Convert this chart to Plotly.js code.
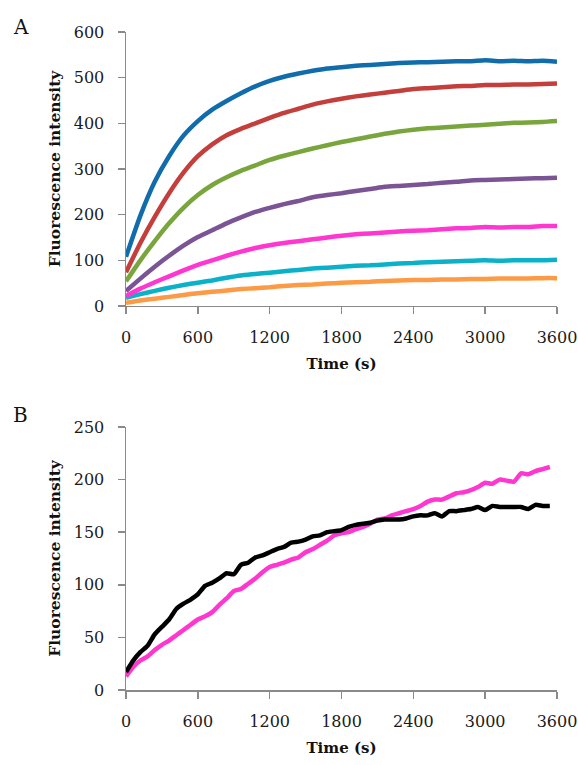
<!DOCTYPE html>
<html>
<head>
<meta charset="utf-8">
<script src="https://cdn.plot.ly/plotly-3.0.1.min.js"></script>
<style>html,body{margin:0;padding:0;background:#fff;}#chart{width:578px;height:765px;}</style>
</head>
<body>
<div id="chart"></div>
<script>
// Panel A: time (s), every 120 s
const timeA = [0,120,240,360,480,600,720,840,960,1080,1200,1320,1440,1560,1680,1800,1920,2040,2160,2280,2400,2520,2640,2760,2880,3000,3120,3240,3360,3480,3600];
const blueA   = [108,198,272,328,373,405,430,449,466,481,493,502,509,515,520,523,526,528,530,532,533,534,535,536,536,538,536,537,536,537,535];
const redA    = [74,138,195,247,292,328,354,374,388,400,412,423,432,441,448,454,459,463,467,471,475,477,479,481,482,484,484,485,485,486,487];
const greenA  = [54,100,142,181,215,243,265,282,296,308,320,329,337,345,352,359,365,371,377,382,386,389,391,393,395,397,399,401,402,403,405];
const purpleA = [33,60,86,110,132,151,166,181,194,206,215,223,230,238,243,247,252,256,261,263,265,267,270,272,275,276,277,278,279,280,281];
const pinkA   = [22,38,52,65,78,90,100,110,119,127,133,138,142,146,150,154,157,159,161,163,165,166,168,170,171,173,172,173,173,175,175];
const cyanA   = [18,26,33,40,46,51,56,62,67,70,73,76,79,82,84,86,88,89,91,93,94,96,97,98,99,100,99,100,100,100,101];
const orangeA = [7,12,16,20,24,28,31,34,37,39,41,44,46,47,49,51,52,53,55,56,57,57,58,58,59,59,60,60,60,61,61];

// Panel B: time (s), every 60 s
const timeB = [0,60,120,180,240,300,360,420,480,540,600,660,720,780,840,900,960,1020,1080,1140,1200,1260,1320,1380,1440,1500,1560,1620,1680,1740,1800,1860,1920,1980,2040,2100,2160,2220,2280,2340,2400,2460,2520,2580,2640,2700,2760,2820,2880,2940,3000,3060,3120,3180,3240,3300,3360,3420,3480,3540];
const blackB = [17,28,36,42,53,60,67,77,82,86,91,99,102,106,111,110,119,121,126,128,131,134,136,140,141,143,146,147,150,151,152,155,157,158,159,161,162,162,162,163,165,166,166,168,165,170,170,171,172,174,171,175,174,174,174,174,172,176,175,175];
const pinkB  = [13,22,28,32,38,43,47,52,57,62,67,70,74,81,87,94,96,101,106,112,117,119,121,124,126,131,134,138,142,147,149,150,153,155,158,162,163,166,168,170,172,175,179,181,181,184,187,188,190,193,197,196,200,199,198,206,205,208,210,212];

const xTicks = [0,600,1200,1800,2400,3000,3600];
const yTicksA = [0,100,200,300,400,500,600];
const yTicksB = [0,50,100,150,200,250];
const yTitle = 'Fluorescence intensity';
const xTitle = 'Time (s)';

const W = 4.5;
function tr(x, y, color, xa, ya) {
  return {x: x, y: y, type: 'scatter', mode: 'lines', line: {color: color, width: W, shape: 'spline', smoothing: 0.5}, xaxis: xa, yaxis: ya, hoverinfo: 'skip', showlegend: false};
}
const data = [
  tr(timeA, orangeA, '#fd9a45', 'x', 'y'),
  tr(timeA, cyanA, '#0bb0c9', 'x', 'y'),
  tr(timeA, pinkA, '#ff36cf', 'x', 'y'),
  tr(timeA, purpleA, '#7a5494', 'x', 'y'),
  tr(timeA, greenA, '#79a53d', 'x', 'y'),
  tr(timeA, redA, '#c43f3b', 'x', 'y'),
  tr(timeA, blueA, '#116cab', 'x', 'y'),
  tr(timeB, pinkB, '#ff36cf', 'x2', 'y2'),
  tr(timeB, blackB, '#000000', 'x2', 'y2')
];

const serif = 'DejaVu Serif, Liberation Serif, serif';
const axLine = '#8a8a8a';
function xax(anchor) {
  return {
    anchor: anchor, range: [0, 3600], tickvals: xTicks, ticktext: xTicks.map(String),
    showline: true, linecolor: axLine, linewidth: 1.5, ticks: 'outside', tickcolor: axLine, tickwidth: 1.5, ticklen: 7,
    showgrid: false, zeroline: false, ticklabelstandoff: 9,
    tickfont: {family: serif, size: 16, color: '#1a1a1a'},
    title: {text: xTitle, font: {family: serif, size: 15, color: '#111', weight: 'bold'}, standoff: 13}
  };
}
function yax(anchor, domain, range, ticks) {
  return {
    anchor: anchor, domain: domain, range: range, tickvals: ticks, ticktext: ticks.map(String),
    showline: true, linecolor: axLine, linewidth: 1.5, ticks: 'outside', tickcolor: axLine, tickwidth: 1.5, ticklen: 7,
    showgrid: false, zeroline: false, ticklabelstandoff: 10,
    tickfont: {family: serif, size: 16, color: '#1a1a1a'},
    title: {text: yTitle, font: {family: serif, size: 15.5, color: '#111', weight: 'bold'}, standoff: 9}
  };
}
const layout = {
  width: 578, height: 765,
  margin: {l: 126, r: 21, t: 32, b: 75},
  paper_bgcolor: '#ffffff', plot_bgcolor: '#ffffff',
  showlegend: false,
  xaxis: xax('y'),
  yaxis: yax('x', [0.5836, 1], [0, 600], yTicksA),
  xaxis2: xax('y2'),
  yaxis2: yax('x2', [0, 0.3997], [0, 250], yTicksB),
  annotations: [
    {text: 'A', xref: 'paper', yref: 'paper', x: -0.244, y: 1.008, xanchor: 'center', yanchor: 'middle', showarrow: false, font: {family: serif, size: 20, color: '#111'}},
    {text: 'B', xref: 'paper', yref: 'paper', x: -0.244, y: 0.418, xanchor: 'center', yanchor: 'middle', showarrow: false, font: {family: serif, size: 20, color: '#111'}}
  ]
};
Plotly.newPlot('chart', data, layout, {staticPlot: true, displayModeBar: false});
</script>
</body>
</html>
